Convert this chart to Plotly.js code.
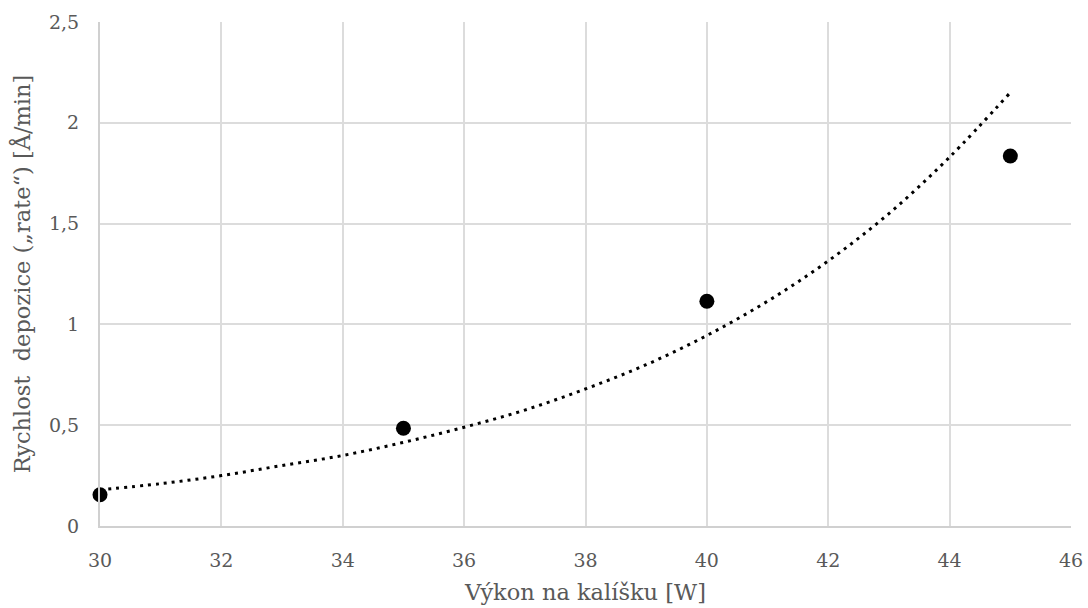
<!DOCTYPE html>
<html>
<head>
<meta charset="utf-8">
<script src="https://cdn.plot.ly/plotly-3.0.1.min.js"></script>
<style>html,body{margin:0;padding:0;background:#fff;}#chart{width:1088px;height:608px;}</style>
</head>
<body>
<div id="chart"></div>
<script>
// Measured points
var powerW = [30, 35, 40, 45];
var rateAmin = [0.155, 0.485, 1.115, 1.835];
// Exponential trendline
var trendX = [30, 31, 32, 33, 34, 35, 36, 37, 38, 39, 40, 41, 42, 43, 44, 45];
var trendY = [0.18, 0.21, 0.25, 0.30, 0.35, 0.415, 0.49, 0.575, 0.68, 0.80, 0.945, 1.115, 1.315, 1.55, 1.83, 2.15];
var xTicks = [30, 32, 34, 36, 38, 40, 42, 44, 46];
var yTicks = [0, 0.5, 1, 1.5, 2, 2.5];
var yTickText = ['0', '0,5', '1', '1,5', '2', '2,5'];

var fontFam = '"DejaVu Serif", "Liberation Serif", serif';
var txtCol = '#595959';
var gridCol = '#dcdcdc';

var traces = [
  {
    x: trendX, y: trendY, type: 'scatter', mode: 'lines',
    line: {color: '#000', width: 3, dash: '3px,5px', shape: 'spline'},
    hoverinfo: 'skip', showlegend: false
  },
  {
    x: powerW, y: rateAmin, type: 'scatter', mode: 'markers',
    marker: {color: '#000', size: 15},
    showlegend: false, cliponaxis: false
  }
];

var layout = {
  width: 1088, height: 608,
  margin: {l: 100, r: 17, t: 22, b: 82},
  paper_bgcolor: '#fff', plot_bgcolor: '#fff',
  separators: ', ',
  showlegend: false,
  font: {family: fontFam, color: txtCol, size: 19},
  xaxis: {
    range: [30, 46], tickvals: xTicks, ticktext: xTicks.map(String),
    showgrid: true, gridcolor: gridCol, gridwidth: 2,
    showline: true, linecolor: '#d0d0d0', linewidth: 2,
    zeroline: false, ticks: 'outside', ticklen: 16, tickcolor: 'rgba(0,0,0,0)',
    tickfont: {family: fontFam, color: txtCol, size: 19},
    title: {text: 'Výkon na kalíšku [W]', font: {family: fontFam, color: txtCol, size: 22.5}, standoff: 14}
  },
  yaxis: {
    range: [0, 2.5], tickvals: yTicks, ticktext: yTickText,
    showgrid: true, gridcolor: gridCol, gridwidth: 2,
    showline: true, linecolor: '#d0d0d0', linewidth: 2,
    zeroline: false, ticks: 'outside', ticklen: 15, tickcolor: 'rgba(0,0,0,0)',
    tickfont: {family: fontFam, color: txtCol, size: 19},
    title: {text: 'Rychlost  depozice (\u201Erate\u201C) [Å/min]', font: {family: fontFam, color: txtCol, size: 22.5}, standoff: 12}
  }
};

Plotly.newPlot('chart', traces, layout, {staticPlot: true, displayModeBar: false});
</script>
</body>
</html>
